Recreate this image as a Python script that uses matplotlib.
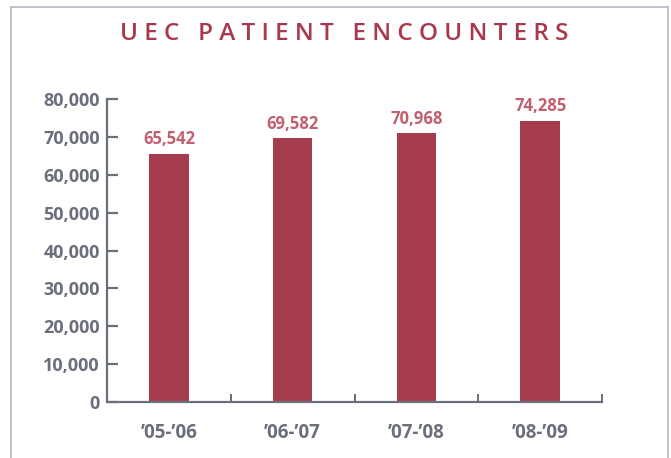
import matplotlib
matplotlib.use("Agg")
import matplotlib.pyplot as plt
from matplotlib.patches import Rectangle

categories = ["\u201905-\u201906", "\u201906-\u201907", "\u201907-\u201908", "\u201908-\u201909"]
values = [65542, 69582, 70968, 74285]
value_labels = ["65,542", "69,582", "70,968", "74,285"]
yticks = [0, 10000, 20000, 30000, 40000, 50000, 60000, 70000, 80000]
ytick_labels = ["0", "10,000", "20,000", "30,000", "40,000", "50,000", "60,000", "70,000", "80,000"]
title = "UEC PATIENT ENCOUNTERS"

BAR = "#a63d4f"
LABEL = "#c2606f"
GRAY = "#6b6e7b"
FONT = "Open Sans"

fig = plt.figure(figsize=(6.71, 4.58), dpi=100)
fig.patch.set_facecolor("white")

# outer frame
fig.patches.append(Rectangle((11/671, -0.1), (668-11)/671, 1.1 - 7/458,
                             transform=fig.transFigure, fill=False,
                             edgecolor="#b3b7c6", linewidth=1.2))

ax = fig.add_axes([107/671, 1-402/458, 495/671, 303/458])
x = list(range(len(categories)))
ax.bar(x, values, width=0.32, color=BAR, zorder=2)
ax.set_xlim(-0.5, 3.5)
ax.set_ylim(0, 80000)

for s in ["top", "right"]:
    ax.spines[s].set_visible(False)
for s in ["left", "bottom"]:
    ax.spines[s].set_color(GRAY)
    ax.spines[s].set_linewidth(1.6)

ax.set_yticks(yticks)
ax.set_yticklabels(ytick_labels, fontfamily=FONT, fontweight="bold", fontsize=13, color=GRAY)
ax.tick_params(axis="y", direction="in", length=8, width=1.6, color=GRAY, pad=5)

ax.set_xticks([0.5, 1.5, 2.5, 3.5])
ax.set_xticklabels([])
ax.set_xticks(x, minor=True)
ax.set_xticklabels(categories, minor=True, fontfamily=FONT, fontweight="bold", fontsize=13.5, color=GRAY)
ax.tick_params(axis="x", which="major", direction="in", length=6, width=1.4, color=GRAY)
ax.tick_params(axis="x", which="minor", length=0, pad=15)

for xi, v, lab in zip(x, values, value_labels):
    ax.annotate(lab, (xi, v), xytext=(0, 4), textcoords="offset points",
                ha="center", va="bottom", fontfamily=FONT, fontweight="bold",
                fontsize=12, color=LABEL)

spaced = "   ".join(" ".join(w) for w in title.split(" "))
fig.text(344/671, 1-34/458, spaced, ha="center", va="center", fontfamily=FONT,
         fontweight="semibold", fontsize=17.5, color="#a8384d")

fig.savefig("out.png", dpi=100, facecolor="white")
